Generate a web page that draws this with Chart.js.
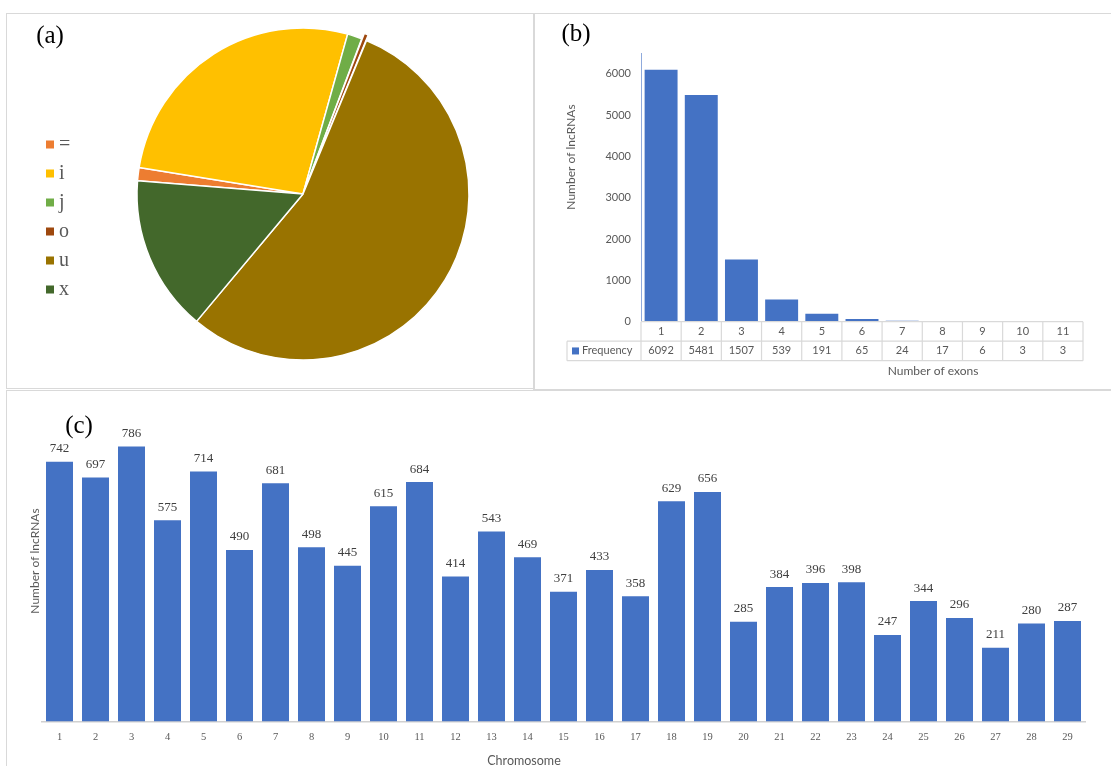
<!DOCTYPE html>
<html><head><meta charset="utf-8">
<script src="https://cdn.jsdelivr.net/npm/chart.js@4"></script>
<style>
html,body{margin:0;padding:0;background:#fff;width:1111px;height:766px;overflow:hidden;position:relative;}
.box{position:absolute;border:1.5px solid #d9d9d9;box-sizing:border-box;}
canvas{position:absolute;}
</style></head><body>
<div class="box" style="left:6px;top:13px;width:529px;height:376px"></div>
<div class="box" style="left:533px;top:13px;width:600px;height:377px;border-width:1.5px 0 1.5px 2px"></div>
<div class="box" style="left:6px;top:390px;width:1120px;height:400px"></div>
<canvas id="ca" width="527" height="375" style="left:7px;top:13px"></canvas>
<canvas id="cb" width="577" height="376" style="left:534px;top:13px"></canvas>
<canvas id="cc" width="1104" height="375" style="left:7px;top:391px"></canvas>
<script>
// ---- Panel (a) data ----
const pieLabels = ['=', 'i', 'j', 'o', 'u', 'x'];
const pieValues = [178, 3730, 197, 68, 7638, 2117];
const pieColors = ['#ED7D31', '#FFC000', '#70AD47', '#9E480E', '#997300', '#43682B'];

// ---- Panel (b) data ----
const exonLabels = ['1','2','3','4','5','6','7','8','9','10','11'];
const exonFreq = [6092, 5481, 1507, 539, 191, 65, 24, 17, 6, 3, 3];
const exonTicks = [0, 1000, 2000, 3000, 4000, 5000, 6000];

// ---- Panel (c) data ----
const chromLabels = ['1','2','3','4','5','6','7','8','9','10','11','12','13','14','15','16','17','18','19','20','21','22','23','24','25','26','27','28','29'];
const chromCounts = [742, 697, 786, 575, 714, 490, 681, 498, 445, 615, 684, 414, 543, 469, 371, 433, 358, 629, 656, 285, 384, 396, 398, 247, 344, 296, 211, 280, 287];

const SERIF = '"Liberation Serif", "Times New Roman", serif';
const SANS = 'Lato, "Open Sans", sans-serif';
const BLUE = '#4472C4';
const GRAY = '#595959';

function txt(ctx, s, x, y, font, color, align, rot) {
  ctx.save();
  ctx.font = font; ctx.fillStyle = color;
  ctx.textAlign = align || 'center'; ctx.textBaseline = 'middle';
  ctx.translate(x, y);
  if (rot) ctx.rotate(rot);
  ctx.fillText(s, 0, 0);
  ctx.restore();
}

// ---------- Panel (a) ----------
const pieDeco = {
  id: 'pieDeco',
  afterDraw(chart) {
    const ctx = chart.ctx;
    txt(ctx, '(a)', 43, 23, '25px ' + SERIF, '#000', 'center');
    const ds = chart.data.datasets[0];
    chart.data.labels.forEach((lab, i) => {
      const y = 131.5 + 29 * i;
      ctx.fillStyle = ds.backgroundColor[i];
      ctx.fillRect(39, y - 4, 8, 8);
      txt(ctx, lab, 52, y, '20px ' + SERIF, GRAY, 'left');
    });
  }
};
new Chart(document.getElementById('ca'), {
  type: 'pie',
  data: { labels: pieLabels, datasets: [{ data: pieValues, backgroundColor: pieColors, borderColor: '#ffffff', borderWidth: 1.5, offset: [0, 0, 0, 12, 0, 0] }] },
  options: {
    responsive: false, animation: false, rotation: 274.6, radius: 166,
    layout: { padding: { left: 65, right: 0, top: 0, bottom: 13 } },
    plugins: { legend: { display: false }, tooltip: { enabled: false } }
  },
  plugins: [pieDeco]
});

// ---------- Panel (b) ----------
const tableDeco = {
  id: 'tableDeco',
  afterDraw(chart) {
    const ctx = chart.ctx;
    const xs = chart.scales.x;
    const n = chart.data.labels.length;
    const w = (xs.right - xs.left) / n;
    const top = chart.chartArea.bottom, mid = top + 19.5, bot = top + 39;
    const left0 = 33;
    ctx.save();
    ctx.strokeStyle = '#d9d9d9'; ctx.lineWidth = 1.2;
    ctx.beginPath();
    ctx.moveTo(xs.left, top); ctx.lineTo(xs.right, top);
    ctx.moveTo(left0, mid); ctx.lineTo(xs.right, mid);
    ctx.moveTo(left0, bot); ctx.lineTo(xs.right, bot);
    ctx.moveTo(left0, mid); ctx.lineTo(left0, bot);
    for (let i = 0; i <= n; i++) {
      const x = xs.left + i * w;
      ctx.moveTo(x, top); ctx.lineTo(x, bot);
    }
    ctx.stroke();
    ctx.restore();
    const f = '11px ' + SANS;
    chart.data.labels.forEach((lab, i) => {
      const cx = xs.getPixelForValue(i);
      txt(ctx, lab, cx, (top + mid) / 2, f, GRAY);
      txt(ctx, String(chart.data.datasets[0].data[i]), cx, (mid + bot) / 2, f, GRAY);
    });
    ctx.fillStyle = BLUE;
    ctx.fillRect(38, (mid + bot) / 2 - 3.5, 7, 7);
    txt(ctx, chart.data.datasets[0].label, 48, (mid + bot) / 2, f, GRAY, 'left');
    txt(ctx, 'Number of exons', 399, 358, '12px ' + SANS, GRAY);
    txt(ctx, 'Number of lncRNAs', 37, 144, '12px ' + SANS, GRAY, 'center', -Math.PI / 2);
    txt(ctx, '(b)', 42, 21, '25px ' + SERIF, '#000');
  }
};
new Chart(document.getElementById('cb'), {
  type: 'bar',
  data: { labels: exonLabels, datasets: [{ label: 'Frequency', data: exonFreq, backgroundColor: BLUE, barPercentage: 0.82, categoryPercentage: 1 }] },
  options: {
    responsive: false, animation: false,
    layout: { padding: { left: 0, right: 28, top: 40, bottom: 0 } },
    plugins: { legend: { display: false }, tooltip: { enabled: false } },
    scales: {
      x: { ticks: { display: false }, grid: { display: false, drawTicks: false }, border: { display: false },
           afterFit(s) { s.height = 67.3; } },
      y: { min: 0, max: 6500,
           afterBuildTicks(s) { s.ticks = exonTicks.map(v => ({ value: v })); },
           afterFit(s) { s.width = 107; },
           ticks: { font: { family: SANS, size: 11 }, color: GRAY, padding: 10, callback: v => String(v) },
           grid: { display: false, drawTicks: false },
           border: { display: true, color: '#8FAADC', width: 1 } }
    }
  },
  plugins: [tableDeco]
});

// ---------- Panel (c) ----------
const chromDeco = {
  id: 'chromDeco',
  afterDraw(chart) {
    const ctx = chart.ctx;
    const meta = chart.getDatasetMeta(0);
    meta.data.forEach((bar, i) => {
      txt(ctx, String(chart.data.datasets[0].data[i]), bar.x, bar.y - 13, '13px ' + SERIF, '#404040');
    });
    txt(ctx, 'Number of lncRNAs', 28, 170, '12px ' + SANS, GRAY, 'center', -Math.PI / 2);
    txt(ctx, 'Chromosome', 517, 370, '12.5px ' + SANS, GRAY);
    txt(ctx, '(c)', 72, 35, '25px ' + SERIF, '#000');
  }
};
new Chart(document.getElementById('cc'), {
  type: 'bar',
  data: { labels: chromLabels, datasets: [{ label: 'Number of lncRNAs', data: chromCounts, backgroundColor: BLUE, barPercentage: 0.75, categoryPercentage: 1 }] },
  options: {
    responsive: false, animation: false,
    layout: { padding: { left: 34.5, right: 25.5, top: 15.5, bottom: 0 } },
    plugins: { legend: { display: false }, tooltip: { enabled: false } },
    scales: {
      x: { ticks: { font: { family: SERIF, size: 10.5 }, color: GRAY, padding: 9, maxRotation: 0, autoSkip: false },
           grid: { display: false, drawTicks: false },
           border: { display: true, color: '#d0d0d0', width: 1.5 },
           afterFit(s) { s.height = 44.5; } },
      y: { display: false, min: 0, max: 900 }
    }
  },
  plugins: [chromDeco]
});
</script>
</body></html>
